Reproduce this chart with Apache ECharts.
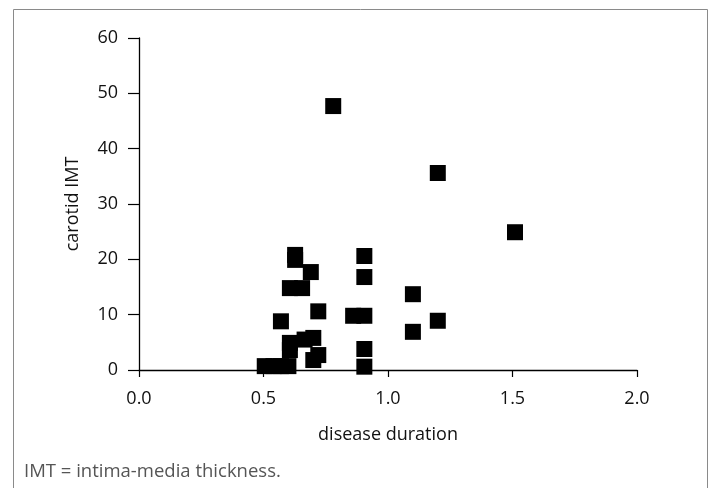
<!DOCTYPE html>
<html>
<head>
<meta charset="utf-8">
<script src="https://cdn.jsdelivr.net/npm/echarts@6/dist/echarts.min.js"></script>
<style>
  html, body { margin: 0; padding: 0; background: #fff; }
  #chart { width: 718px; height: 488px; }
</style>
</head>
<body>
<div id="chart"></div>
<script>
// disease duration (x) and carotid IMT (y)
const duration = [0.78, 1.20, 1.51, 0.905, 0.627, 0.627, 0.69, 0.606, 0.655, 0.72,
  0.57, 0.86, 0.905, 0.905, 0.905, 0.905, 1.10, 1.10, 1.20,
  0.505, 0.54, 0.57, 0.60, 0.606, 0.606, 0.665, 0.70, 0.70, 0.72];
const imt = [47.7, 35.6, 24.9, 20.6, 20.8, 19.9, 17.7, 14.8, 14.8, 10.6,
  8.8, 9.8, 9.8, 16.8, 3.8, 0.6, 13.7, 6.9, 8.9,
  0.7, 0.7, 0.7, 0.7, 4.9, 3.6, 5.5, 5.8, 1.8, 2.7];
const footnote = 'IMT = intima-media thickness.';

const points = duration.map((d, i) => [d, imt[i]]);
const font = '"Open Sans", "Noto Sans", sans-serif';

const chart = echarts.init(document.getElementById('chart'));
chart.setOption({
  animation: false,
  grid: { left: 139, right: 81, top: 38, bottom: 118 },
  graphic: [
    {
      type: 'rect',
      shape: { x: 13.5, y: 9.5, width: 694, height: 490 },
      style: { fill: 'none', stroke: '#8a8a8a', lineWidth: 1 }
    },
    {
      type: 'text',
      left: 24, top: 462,
      style: { text: footnote, font: '18.5px ' + font, fill: '#555' }
    }
  ],
  xAxis: {
    type: 'value',
    min: 0, max: 2, interval: 0.5,
    name: 'disease duration',
    nameLocation: 'middle',
    nameGap: 56,
    nameTextStyle: { fontFamily: font, fontSize: 18, color: '#111' },
    axisLine: { show: true, onZero: false, lineStyle: { color: '#000', width: 1.3 } },
    axisTick: { show: true, length: 7, lineStyle: { color: '#000', width: 1.2 } },
    axisLabel: {
      margin: 20, fontFamily: font, fontSize: 18, color: '#111',
      formatter: v => v.toFixed(1)
    },
    splitLine: { show: false }
  },
  yAxis: {
    type: 'value',
    min: 0, max: 60, interval: 10,
    name: 'carotid IMT',
    nameLocation: 'middle',
    nameGap: 57,
    nameTextStyle: { fontFamily: font, fontSize: 18, color: '#111' },
    axisLine: { show: true, onZero: false, lineStyle: { color: '#000', width: 1.3 } },
    axisTick: { show: true, length: 11, lineStyle: { color: '#000', width: 1.2 } },
    axisLabel: { margin: 21, fontFamily: font, fontSize: 18, color: '#111' },
    splitLine: { show: false }
  },
  series: [{
    type: 'scatter',
    data: points,
    symbol: 'rect',
    symbolSize: 16,
    itemStyle: { color: '#000', opacity: 1 }
  }]
});
</script>
</body>
</html>
